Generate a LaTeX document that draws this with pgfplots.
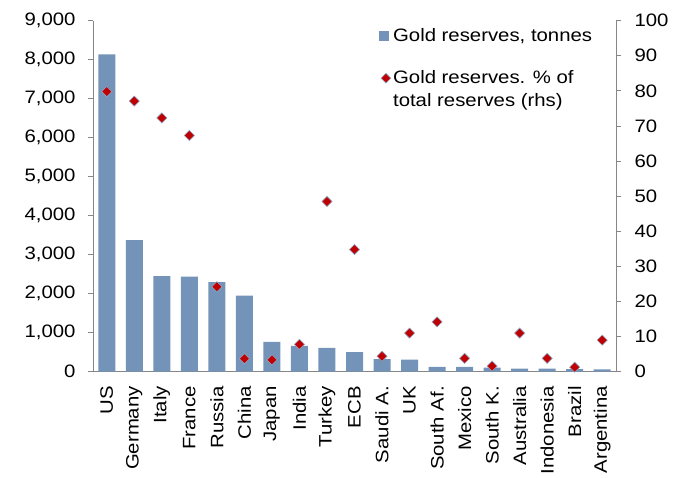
\documentclass[border=0pt]{standalone}
\usepackage{fontspec}
\setmainfont{Liberation Sans}[FakeStretch=1.13]
\usepackage{pgfplots}
\pgfplotsset{compat=1.18}
\usetikzlibrary{shapes.geometric}
\definecolor{barblue}{HTML}{7394B8}
\definecolor{dred}{HTML}{C00000}
\definecolor{dedge}{HTML}{8FA8C8}
\definecolor{axgray}{HTML}{868686}
\newcommand{\tfont}{\fontsize{18}{23}\selectfont}
\begin{document}
\begin{tikzpicture}
\begin{axis}[name=ax, scale only axis, width=523pt, height=351pt,
  xmin=-0.5, xmax=18.5, ymin=0, ymax=9000,
  ybar, bar width=17pt,
  axis y line*=left, axis x line*=bottom,
  xtick={0,...,18},
  xticklabels={US,Germany,Italy,France,Russia,China,Japan,India,Turkey,ECB,Saudi A.,UK,South Af.,Mexico,South K.,Australia,Indonesia,Brazil,Argentina},
  x tick label style={rotate=90, anchor=east, font=\tfont, xshift=-6pt},
  major x tick style={draw=none},
  ytick={0,1000,...,9000},
  y tick label style={font=\tfont, xshift=-9pt, /pgf/number format/1000 sep={,}, /pgf/number format/assume math mode=true},
  scaled y ticks=false,
  tick align=outside, major tick length=5pt,
  axis line style={axgray, line width=0.8pt}, y tick style={axgray, line width=0.8pt},
  legend style={draw=none, fill=none, font=\tfont, at={(0.541,0.99)}, anchor=north west,
    row sep=24pt, cells={anchor=west, align=left}},
  legend cell align=left,
]
\addplot[fill=barblue, draw=none, legend image code/.code={\fill[barblue] (0pt,-5pt) rectangle (10pt,5pt);}] coordinates {
(0,8134) (1,3371) (2,2451) (3,2436) (4,2299) (5,1948) (6,765) (7,660) (8,611) (9,504)
(10,323) (11,310) (12,125) (13,121) (14,104) (15,80) (16,78) (17,67) (18,62)};
\addlegendentry{Gold reserves, tonnes}
\addlegendimage{legend image code/.code={\node[diamond, fill=dred, draw=dedge, line width=0.6pt, minimum size=10pt, inner sep=0pt] at (1.5pt,11.5pt) {};}}
\addlegendentry{Gold reserves. \% of\\total reserves (rhs)}
\end{axis}
\begin{axis}[scale only axis, width=523pt, height=351pt,
  xmin=-0.5, xmax=18.5, ymin=0, ymax=100,
  axis y line*=right, axis x line=none,
  ytick={0,10,...,100},
  y tick label style={font=\tfont, xshift=10pt, /pgf/number format/assume math mode=true},
  tick align=outside, major tick length=5pt,
  axis line style={axgray, line width=0.8pt}, y tick style={axgray, line width=0.8pt},
]
\addplot[only marks, mark=square*, mark size=3.6pt, mark options={rotate=45, fill=dred, draw=dedge, line width=0.6pt}] coordinates {
(0,79.8) (1,77.1) (2,72.3) (3,67.3) (4,24.2) (5,3.7) (6,3.4) (7,7.8) (8,48.5) (9,34.8)
(10,4.4) (11,11.0) (12,14.2) (13,3.8) (14,1.6) (15,11.0) (16,3.8) (17,1.3) (18,9.0)};
\end{axis}
\path (ax.south west) ++(-93pt,-102.3pt) rectangle ++(683pt,474pt);
\end{tikzpicture}
\end{document}
